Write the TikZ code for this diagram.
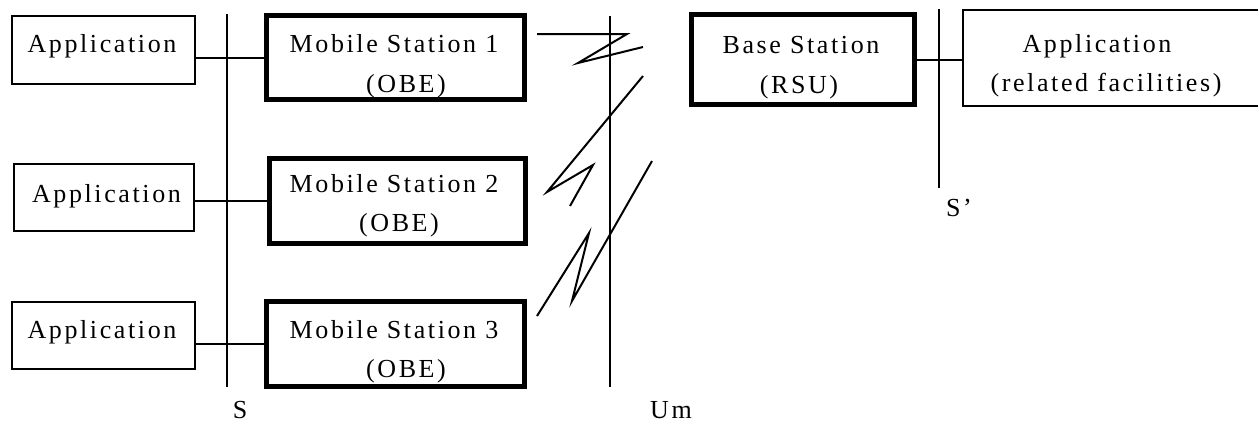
\documentclass[tikz,border=0pt]{standalone}
\usepackage{fontspec}
\setmainfont{Liberation Serif}[LetterSpace=10]
\begin{document}
\begin{tikzpicture}[x=1pt,y=-1pt,
  thinbox/.style={draw, line width=2pt, inner sep=0pt},
  thickbox/.style={draw, line width=5pt, inner sep=0pt},
  txt/.style={inner sep=0pt, anchor=base, font=\fontsize{26}{31}\selectfont},
  wire/.style={line width=2pt},
  zig/.style={line width=2pt, line join=miter}]
\useasboundingbox (0,0) rectangle (1258,423);
\clip (0,0) rectangle (1258,423);
% left applications
\node[thinbox, minimum width=183pt, minimum height=68pt] (app1) at (103.5,50) {};
\node[thinbox, minimum width=180pt, minimum height=67pt] (app2) at (104,197.5) {};
\node[thinbox, minimum width=183pt, minimum height=67pt] (app3) at (103.5,335.5) {};
\node[txt] (app1t) at (102,52) {Application};
\node[txt] (app2t) at (106.5,202) {Application};
\node[txt] (app3t) at (102,338) {Application};
% mobile stations
\node[thickbox, minimum width=258pt, minimum height=84pt] (ms1) at (395.5,57.5) {};
\node[thickbox, minimum width=256pt, minimum height=85pt] (ms2) at (397.5,201) {};
\node[thickbox, minimum width=258pt, minimum height=85pt] (ms3) at (395.5,344) {};
\node[txt] (ms1a) at (394,52) {Mobile Station 1};
\node[txt] (ms1b) at (406,92) {(OBE)};
\node[txt] (ms2a) at (394,192) {Mobile Station 2};
\node[txt] (ms2b) at (399,231) {(OBE)};
\node[txt] (ms3a) at (394,338) {Mobile Station 3};
\node[txt] (ms3b) at (406,377) {(OBE)};
% base station and right application
\node[thickbox, minimum width=223pt, minimum height=90pt] (base) at (803,59.5) {};
\node[txt] (basea) at (801,53) {Base Station};
\node[txt] (baseb) at (799,93) {(RSU)};
\node[thinbox, minimum width=320pt, minimum height=96pt] (rapp) at (1123,58) {};
\node[txt] (rappa) at (1097,52) {Application};
\node[txt] (rappb) at (1106,91) {(related facilities)};
% interface lines
\coordinate (stop) at (227,14);
\coordinate (sbot) at (227,387);
\draw[wire] (stop) -- (sbot);
\coordinate (umtop) at (610,16);
\coordinate (umbot) at (610,387);
\draw[wire] (umtop) -- (umbot);
\coordinate (sptop) at (939,9);
\coordinate (spbot) at (939,188);
\draw[wire] (sptop) -- (spbot);
\node[txt] (slab) at (240,418) {S};
\node[txt] (umlab) at (671,418) {Um};
\node[txt] (splab) at (959,216) {S’};
% connectors
\draw[wire] (app1.east |- ms1.west) -- (ms1.west);
\draw[wire] (app2.east |- ms2.west) -- (ms2.west);
\draw[wire] (app3.east |- ms3.west) -- (ms3.west);
\draw[wire] (base.east) -- (rapp.west |- base.east);
% radio zigzags
\draw[zig] (537,34) -- (627,34) -- (578,63) -- (643,47);
\draw[zig] (643,76) -- (547,192) -- (593,165) -- (570,206);
\draw[zig] (652,161) -- (572,301) -- (589,233) -- (537,316);
\end{tikzpicture}
\end{document}
